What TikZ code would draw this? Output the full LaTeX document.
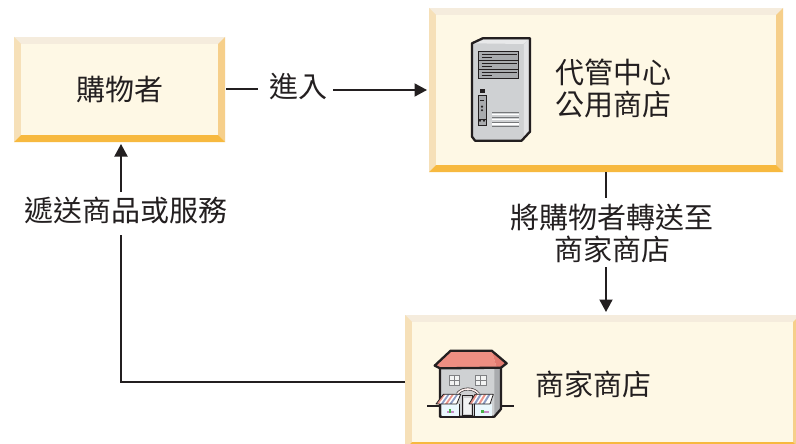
\documentclass[tikz,border=0pt]{standalone}
\usepackage{fontspec}
\setmainfont{Noto Sans CJK TC}
\usetikzlibrary{arrows.meta}
\definecolor{face}{HTML}{FEF8E5}
\definecolor{bevT}{HTML}{F5ECDD}
\definecolor{bevL}{HTML}{F6E0B8}
\definecolor{bevR}{HTML}{F6CF8A}
\definecolor{bevB}{HTML}{F7B93F}
\definecolor{ink}{HTML}{231F20}
\definecolor{srvF}{HTML}{CFD1D3}
\definecolor{srvT}{HTML}{E8E9EA}
\definecolor{srvR}{HTML}{E2E3E5}
\definecolor{srvD}{HTML}{A9ABAE}
\definecolor{roof}{HTML}{EE8E82}
\definecolor{roofD}{HTML}{E27A70}
\definecolor{stripe}{HTML}{8C9CC4}
\definecolor{awnP}{HTML}{E9938A}
\newcommand{\lblfont}{\fontsize{29}{32}\selectfont\setlength{\lineskiplimit}{-30pt}}
\tikzset{
  box/.style={inner sep=0pt,outer sep=0pt},
  lbl/.style={inner sep=0pt,outer sep=0pt,text=ink,font=\lblfont,align=center},
  conn/.style={draw=ink,line width=1.9pt},
  arr/.style={conn,-{Triangle[length=12.5pt,width=13pt]}},
  ol/.style={draw=ink,line width=2.3pt,line join=round}
}
\newcommand{\bevbox}[6]{% name x1 y1 x2 y2 bevel
  \fill[bevT] (#2,#3) rectangle (#4,#3+#6);
  \fill[bevL] (#2,#3) -- (#2+#6,#3+#6) -- (#2+#6,#5-#6) -- (#2,#5) -- cycle;
  \fill[bevR] (#4,#3) -- (#4-#6,#3+#6) -- (#4-#6,#5-#6) -- (#4,#5) -- cycle;
  \fill[bevB] (#2,#5) -- (#2+#6,#5-#6) -- (#4-#6,#5-#6) -- (#4,#5) -- cycle;
  \fill[face] (#2+#6,#3+#6) rectangle (#4-#6,#5-#6);
  \node[box,minimum width=#4pt-#2pt,minimum height=#5pt-#3pt] (#1) at ({(#2+#4)/2},{(#3+#5)/2}) {};
}
\begin{document}
\begin{tikzpicture}[x=1pt,y=-1pt]
\useasboundingbox (0,0) rectangle (796,444);
\clip (0,0) rectangle (796,444);
\fill[white] (0,0) rectangle (796,444);
\bevbox{shopper}{14}{37}{225}{142}{7}
\bevbox{center}{429}{8}{783}{172}{7}
\bevbox{store}{405}{315}{800}{449}{7}

\node[lbl] (shopperT) at (120,89) {購物者};
\node[lbl,anchor=west,align=left] (centerT) at (555,88) {代管中心\\公用商店};
\node[lbl] (storeT) at (593,384) {商家商店};
\node[lbl] (enter) at (298,87) {進入};
\node[lbl] (forward) at (612,233.5) {將購物者轉送至\\商家商店};
\node[lbl] (deliver) at (126,210) {遞送商品或服務};
\coordinate (turn) at (121,382);
\coordinate (fx) at (606,0);
\coordinate (cA) at (0,198);
\coordinate (cB) at (0,267);
\coordinate (cC) at (0,235);
\coordinate (cD) at (0,192);
\coordinate (cE) at (0,89);

\draw[conn] (shopper.east |- cE) ++(1,0) -- ([xshift=-11pt]enter.west |- cE);
\draw[arr] ([xshift=6pt]enter.east |- center.west) -- ([xshift=-2pt]center.west);
\draw[conn] (fx |- center.south) -- (fx |- cA);
\draw[arr] (fx |- cB) -- ([yshift=3pt]fx |- store.north);
\draw[conn] (store.west) -- (turn) -- (turn |- cC);
\draw[arr] (turn |- cD) -- ([yshift=-2pt]turn |- shopper.south);

% server icon
\begin{scope}[shift={(440,10)},x=0.3333pt,y=-0.3333pt]
  \fill[srvF] (96,100) -- (128,85) -- (270,85) -- (270,365) -- (245,392) -- (105,392) -- (96,380) -- cycle;
  \fill[srvT] (103,100) -- (130,90) -- (265,90) -- (250,102) -- cycle;
  \fill[srvR] (252,102) -- (266,90) -- (266,362) -- (252,378) -- cycle;
  \draw[ol] (96,100) -- (128,85) -- (270,85) -- (270,365) -- (245,392) -- (105,392) -- (96,380) -- cycle;
  \foreach \y in {125,152,179}{
    \fill[srvD] (115,\y) rectangle (235,\y+26);
    \draw[ink,line width=0.8pt] (115,\y) rectangle (235,\y+26);
    \draw[ink,line width=0.6pt] (125,\y+8) -- (230,\y+8);
    \draw[ink,line width=0.8pt] (125,\y+17) -- (155,\y+17);
  }
  \fill[ink] (120,237) rectangle (136,248);
  \fill[srvD] (114,256) rectangle (139,347);
  \draw[ink,line width=0.9pt] (114,256) rectangle (139,347);
  \draw[ink,line width=0.8pt] (120,270) -- (133,270);
  \foreach \y in {290,301}{\fill[ink] (126,\y) circle (3.5);}
  \foreach \x in {120,132}{\fill[ink] (\x,332) circle (3.5);}
  \draw[ink,line width=0.5pt] (115,327) -- (138,327);
  \foreach \y in {308,322,336}{\draw[srvD!70!black,line width=0.8pt] (157,\y) -- (236,\y);\draw[white,line width=1.2pt] (157,\y+6) -- (236,\y+6);}
  \draw[srvD!70!black,line width=0.8pt] (157,349) -- (236,349);
\end{scope}

% shop icon
\begin{scope}[shift={(430,345)},x=0.3333pt,y=-0.3333pt]
  \draw[ink,line width=1.5pt] (-8,183) -- (30,183);
  \draw[ink,line width=1.5pt] (213,183) -- (252,183);
  \fill[srvF] (30,68) rectangle (195,215);
  \fill[srvD] (193,68) -- (213,68) -- (213,192) -- (193,215) -- cycle;
  \draw[ink,line width=2.3pt,line join=round] (30,68) -- (30,215) -- (193,215) -- (213,192) -- (213,68);
  \fill[roof] (14,62) -- (62,17) -- (185,17) -- (200,68) -- (30,70) -- cycle;
  \fill[roofD] (185,17) -- (230,55) -- (213,68) -- (200,68) -- cycle;
  \draw[ink,line width=2.3pt,line join=round] (14,62) -- (62,17) -- (185,17) -- (230,55) -- (213,68) -- (30,70) -- cycle;
  \foreach \x in {58,137}{
    \fill[white!85!srvD] (\x,92) rectangle (\x+31,120);
    \draw[srvD!75!black,line width=0.8pt] (\x,92) rectangle (\x+31,120);
    \draw[srvD!75!black,line width=0.8pt] (\x+15.5,92) -- (\x+15.5,120) (\x,106) -- (\x+31,106);
  }
  \draw[ink,line width=2.8pt] (82,147) .. controls (95,127) and (132,127) .. (146,147);
  \draw[white!85!roof,line width=1.6pt] (82,147) .. controls (95,127) and (132,127) .. (146,147);
  \fill[white!92!cyan] (36,178) rectangle (88,213);
  \fill[white!92!cyan] (132,178) rectangle (186,213);
  \fill[srvD!55!white] (97,152) rectangle (128,212);
  \draw[ink,line width=1pt] (97,152) rectangle (128,212);
  \fill[white!85!srvD] (103,160) rectangle (122,208);
  % awnings
  \fill[white] (18,177) -- (40,148) -- (92,148) -- (80,177) -- cycle;
  \fill[white] (117,177) -- (135,148) -- (190,148) -- (180,177) -- cycle;
  \foreach \d/\c in {0/awnP,13/stripe,26/awnP,39/stripe}{
    \fill[\c] (19+\d,177) -- (40+\d,148) -- (46+\d,148) -- (26+\d,177) -- cycle;
    \fill[\c] (118+\d,177) -- (136+\d,148) -- (143+\d,148) -- (125+\d,177) -- cycle;
  }
  \draw[ink,line width=0.8pt,line join=round] (18,177) -- (40,148) -- (92,148) -- (80,177) -- cycle;
  \draw[ink,line width=0.8pt,line join=round] (117,177) -- (135,148) -- (190,148) -- (180,177) -- cycle;
  \fill[white!55!violet] (52,197) rectangle (72,203);
  \fill[white!40!green!70!black] (56,191) rectangle (64,203);
  \fill[white!55!violet] (158,197) rectangle (178,203);
  \fill[white!40!green!70!black] (152,194) rectangle (162,203);
  \draw[ink,line width=1pt] (88,178) -- (88,212) (134,178) -- (134,212);
  \draw[ink,line width=2.3pt] (30,215) -- (193,215);
\end{scope}
\end{tikzpicture}
\end{document}
